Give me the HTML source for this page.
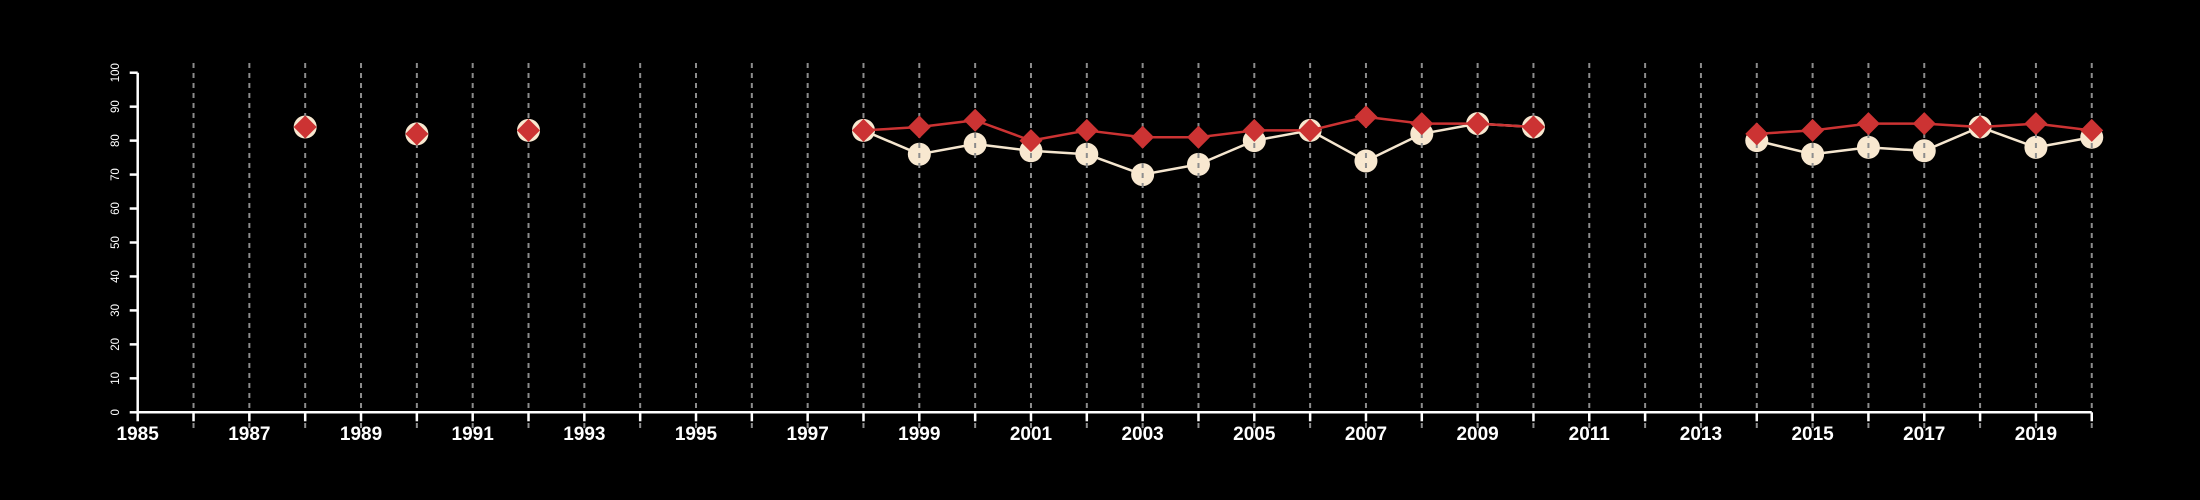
<!DOCTYPE html>
<html><head><meta charset="utf-8"><style>
html,body{margin:0;padding:0;background:#000;}
svg{display:block;font-family:"Liberation Sans",Arial,sans-serif;}
</style></head><body>
<svg id="chart" width="2200" height="500" viewBox="0 0 2200 500" xmlns="http://www.w3.org/2000/svg">
<rect width="2200" height="500" fill="#000"/>
<g id="cream"></g>
<g id="grid"></g>
<g id="axes"></g>
<g id="series"></g>
</svg>
<script>
const years = [1988,1990,1992,1998,1999,2000,2001,2002,2003,2004,2005,2006,2007,2008,2009,2010,2014,2015,2016,2017,2018,2019,2020];
const redValues = [84,82,83,83,84,86,80,83,81,81,83,83,87,85,85,84,82,83,85,85,84,85,83];
const creamValues = [84,82,83,83,76,79,77,76,70,73,80,83,74,82,85,84,80,76,78,77,84,78,81];
const yTicks = [0,10,20,30,40,50,60,70,80,90,100];
const xMin = 1985, xMax = 2020;

const NS = "http://www.w3.org/2000/svg";
function xS(v){ return 137.7 + (v - xMin) * 55.83; }
function yS(v){ return 412.3 - v * 3.396; }
function mk(tag, attrs, parent){
  const e = document.createElementNS(NS, tag);
  for (const k in attrs) e.setAttribute(k, attrs[k]);
  parent.appendChild(e);
  return e;
}
const grid = document.getElementById('grid');
const axes = document.getElementById('axes');
const series = document.getElementById('series');
const cream = document.getElementById('cream');

for (let y = xMin + 1; y <= xMax; y++) {
  const l = mk('line', {x1:xS(y), x2:xS(y), y1:63, y2:428, stroke:'#8c8c8c', 'stroke-width':2, 'stroke-dasharray':'5,5'}, grid);
  
  
}
const xa = mk('line', {x1:xS(xMin), x2:xS(xMax), y1:yS(0), y2:yS(0), stroke:'#fff', 'stroke-width':2.5}, axes);


for (let y = xMin; y <= xMax; y++) {
  const t = mk('line', {x1:xS(y), x2:xS(y), y1:yS(0), y2:yS(0)+9, stroke:'#fff', 'stroke-width':2.5}, axes);
  
  
  if ((y - xMin) % 2 === 0) {
    const tx = mk('text', {x:xS(y), y:440, fill:'#fff', 'font-size':19, 'font-weight':'bold', 'text-anchor':'middle'}, axes);
    tx.textContent = y;
    
    
  }
}
const ya = mk('line', {x1:xS(xMin), x2:xS(xMin), y1:yS(0), y2:yS(100), stroke:'#fff', 'stroke-width':2.5}, axes);


yTicks.forEach(v => {
  const t = mk('line', {x1:xS(xMin)-8, x2:xS(xMin), y1:yS(v), y2:yS(v), stroke:'#fff', 'stroke-width':2.5}, axes);
  
  
  const tx = mk('text', {x:0, y:0, fill:'#fff', 'font-size':11.5, 'text-anchor':'middle', transform:'translate(119,' + yS(v) + ') rotate(-90)'}, axes);
  tx.textContent = v;
  
  
});

function drawLines(vals, color, name, parent) {
  for (let i = 1; i < years.length; i++) {
    if (years[i] - years[i-1] === 1) {
      const l = mk('line', {x1:xS(years[i-1]), y1:yS(vals[i-1]), x2:xS(years[i]), y2:yS(vals[i]), stroke:color, 'stroke-width':2.5}, parent);
      
      
    }
  }
}
drawLines(creamValues, '#f5e6cf', 'cream-line', cream);
years.forEach((yr, i) => {
  const c = mk('circle', {cx:xS(yr), cy:yS(creamValues[i]), r:11.5, fill:'#f8e8d0'}, cream);
  
  
});
drawLines(redValues, '#cc3333', 'red-line', series);
years.forEach((yr, i) => {
  const x = xS(yr), y = yS(redValues[i]), s = 11.5;
  const p = mk('polygon', {points:(x)+','+(y-s)+' '+(x+s)+','+y+' '+x+','+(y+s)+' '+(x-s)+','+y, fill:'#cc3333'}, series);
  
  
});
</script>
</body></html>
